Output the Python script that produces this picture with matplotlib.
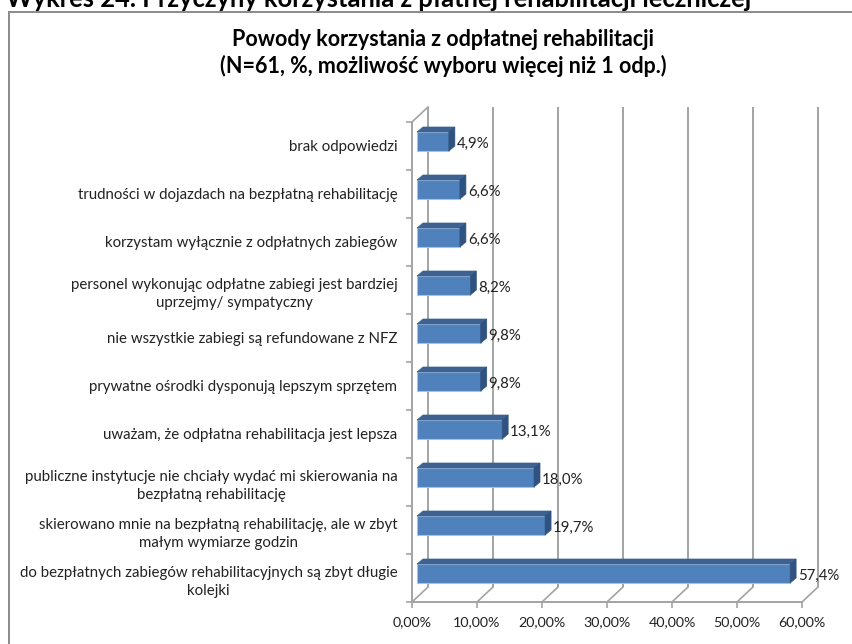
import matplotlib.pyplot as plt
from matplotlib.patches import Polygon, Rectangle
from matplotlib.transforms import ScaledTranslation, IdentityTransform

plt.rcParams['font.family'] = ['Lato', 'DejaVu Sans']

# od dolu do gory
kategorie = [
    "do bezpłatnych zabiegów rehabilitacyjnych są zbyt długie\nkolejki",
    "skierowano mnie na bezpłatną rehabilitację, ale w zbyt\nmałym wymiarze godzin",
    "publiczne instytucje nie chciały wydać mi skierowania na\nbezpłatną rehabilitację",
    "uważam, że odpłatna rehabilitacja jest lepsza",
    "prywatne ośrodki dysponują lepszym sprzętem",
    "nie wszystkie zabiegi są refundowane z NFZ",
    "personel wykonując odpłatne zabiegi jest bardziej\nuprzejmy/ sympatyczny",
    "korzystam wyłącznie z odpłatnych zabiegów",
    "trudności w dojazdach na bezpłatną rehabilitację",
    "brak odpowiedzi",
]
wartosci = [57.4, 19.7, 18.0, 13.1, 9.8, 9.8, 8.2, 6.6, 6.6, 4.9]
etykiety = ["57,4%", "19,7%", "18,0%", "13,1%", "9,8%", "9,8%", "8,2%", "6,6%", "6,6%", "4,9%"]
osie_x = [0, 10, 20, 30, 40, 50, 60]
osie_x_opis = ["0,00%", "10,00%", "20,00%", "30,00%", "40,00%", "50,00%", "60,00%"]

W, H = 853, 644
fig = plt.figure(figsize=(W / 100, H / 100), dpi=100)
fig.patch.set_facecolor("white")

# ramka wykresu
fig.add_artist(Rectangle((9 / W, -0.01), 850 / W, (H - 12) / H + 0.01, transform=fig.transFigure,
                         fc="white", ec="#8a8a8a", lw=1.4, zorder=-1))

fig.text(6 / W, 1 - 7 / H, "Wykres 24. Przyczyny korzystania z płatnej rehabilitacji leczniczej",
         fontsize=18.4, fontweight="bold", color="black", va="baseline", ha="left")
fig.text(443 / W, 1 - 40 / H, "Powody korzystania z odpłatnej rehabilitacji",
         fontsize=15.5, fontweight="bold", ha="center", va="center")
fig.text(443 / W, 1 - 66 / H, "(N=61, %, możliwość wyboru więcej niż 1 odp.)",
         fontsize=15.5, fontweight="bold", ha="center", va="center")

ax = fig.add_axes([412 / W, 1 - 602 / H, 390 / W, 480 / H])
ax.set_xlim(0, 60)
ax.set_ylim(-0.5, 9.5)
ax.patch.set_alpha(0)
for s in ["top", "right"]:
    ax.spines[s].set_visible(False)
szary = "#a3a3a3"
for s in ["left", "bottom"]:
    ax.spines[s].set_color(szary)
    ax.spines[s].set_linewidth(1.4)

ax.set_xticks(osie_x)
ax.set_xticklabels(osie_x_opis, fontsize=10.3, color="#222222")
ax.set_yticks([i - 0.5 for i in range(11)])
ax.set_yticklabels([])
ax.set_yticks(range(10), minor=True)
ax.set_yticklabels(kategorie, minor=True, fontsize=10.8, color="#222222", multialignment="center",
                   linespacing=1.45)
ax.tick_params(axis="both", which="major", length=4, width=1.2, color=szary)
ax.tick_params(axis="x", pad=6.5)
ax.tick_params(axis="y", which="minor", length=0, pad=10.5)


def przes(dx, dy):
    return ax.transData + ScaledTranslation(dx / 100, dy / 100, fig.dpi_scale_trans)


# tylna sciana i podloga wykresu
GL = 16
ax.vlines(osie_x, -0.5, 9.5, colors=szary, lw=1.4, transform=przes(GL, 15), clip_on=False, zorder=1)
for x in osie_x:
    a = ax.transData.transform((x, -0.5))
    ax.plot([a[0], a[0] + GL], [a[1], a[1] + 15], color=szary, lw=1.2,
            transform=IdentityTransform(), clip_on=False, zorder=1)
a = ax.transData.transform((0, 9.5))
ax.plot([a[0], a[0] + GL], [a[1], a[1] + 15], color=szary, lw=1.2,
        transform=IdentityTransform(), clip_on=False, zorder=1)

# slupki: przod, gora i bok
DX, DY = 5, 4.5
GX, GY = 6, 5
wys = 19 / 48
ax.barh(range(10), wartosci, height=wys, color="#4f81bd", edgecolor="#a8c1e0", linewidth=0.8,
        transform=przes(DX, DY), clip_on=False, zorder=3)
for i, v in enumerate(wartosci):
    x0, y0 = ax.transData.transform((0, i - wys / 2))
    x1, y1 = ax.transData.transform((v, i + wys / 2))
    x0, x1, y0, y1 = x0 + DX, x1 + DX, y0 + DY, y1 + DY
    ax.add_patch(Polygon([(x0, y1), (x1, y1), (x1 + GX, y1 + GY), (x0 + GX, y1 + GY)],
                         fc="#3c6292", ec="#3c6292", lw=0.5, transform=IdentityTransform(), clip_on=False, zorder=3))
    ax.add_patch(Polygon([(x1, y0), (x1, y1), (x1 + GX, y1 + GY), (x1 + GX, y0 + GY)],
                         fc="#2f5280", ec="#2f5280", lw=0.5, transform=IdentityTransform(), clip_on=False, zorder=3))
    ax.text(v, i, etykiety[i], transform=przes(DX + GX + 2, DY - 2), fontsize=10.8, color="#222222",
            va="center", ha="left", clip_on=False, zorder=4)

fig.savefig("out.png", dpi=100)
